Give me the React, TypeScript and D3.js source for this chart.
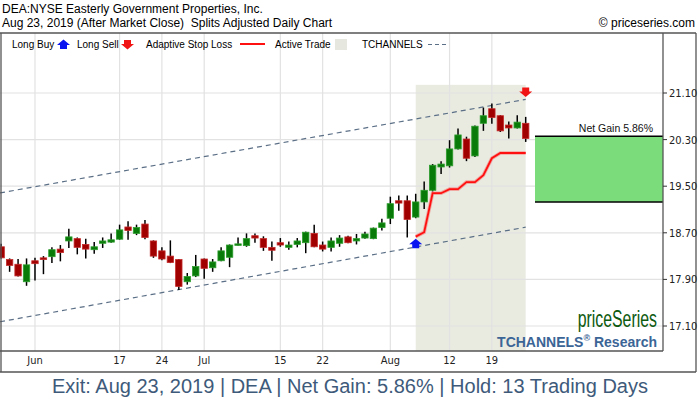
import React from "react";
import * as d3 from "d3";

// ---- data ----
const dates = [
  "2019-05-28","2019-05-29","2019-05-30","2019-05-31",
  "2019-06-03","2019-06-04","2019-06-05","2019-06-06","2019-06-07","2019-06-10","2019-06-11","2019-06-12","2019-06-13","2019-06-14",
  "2019-06-17","2019-06-18","2019-06-19","2019-06-20","2019-06-21","2019-06-24","2019-06-25","2019-06-26","2019-06-27","2019-06-28",
  "2019-07-01","2019-07-02","2019-07-03","2019-07-05","2019-07-08","2019-07-09","2019-07-10","2019-07-11","2019-07-12",
  "2019-07-15","2019-07-16","2019-07-17","2019-07-18","2019-07-19","2019-07-22","2019-07-23","2019-07-24","2019-07-25","2019-07-26",
  "2019-07-29","2019-07-30","2019-07-31","2019-08-01","2019-08-02","2019-08-05","2019-08-06","2019-08-07","2019-08-08","2019-08-09",
  "2019-08-12","2019-08-13","2019-08-14","2019-08-15","2019-08-16","2019-08-19","2019-08-20","2019-08-21","2019-08-22","2019-08-23",
];
const opens = [18.46,18.24,18.16,17.86,18.22,18.27,18.29,18.42,18.56,18.60,18.50,18.41,18.52,18.54,18.59,18.80,18.69,18.85,18.56,18.39,18.30,18.24,17.86,17.96,18.25,18.10,18.22,18.28,18.49,18.48,18.65,18.60,18.45,18.53,18.45,18.50,18.53,18.69,18.49,18.45,18.52,18.63,18.56,18.61,18.60,18.79,18.95,19.25,19.25,18.97,19.23,19.43,19.83,19.85,20.14,20.31,20.02,20.58,20.83,20.71,20.55,20.50,20.58];
const highs = [18.51,18.26,18.25,18.26,18.27,18.30,18.45,18.49,18.77,18.62,18.60,18.54,18.62,18.69,18.84,18.90,18.84,18.92,18.57,18.45,18.57,18.25,18.01,18.32,18.26,18.25,18.45,18.50,18.62,18.69,18.69,18.64,18.55,18.61,18.55,18.61,18.72,18.84,18.55,18.62,18.66,18.65,18.68,18.72,18.79,18.94,19.32,19.34,19.34,19.37,19.58,19.88,19.93,20.29,20.49,20.35,20.54,20.85,20.92,20.72,20.61,20.72,20.69];
const lows = [18.26,18.03,17.95,17.79,17.88,17.99,18.18,18.21,18.44,18.33,18.26,18.34,18.44,18.53,18.58,18.58,18.66,18.59,18.27,18.23,18.18,17.72,17.81,17.94,17.91,18.03,18.21,18.11,18.48,18.46,18.53,18.39,18.22,18.46,18.41,18.45,18.35,18.45,18.38,18.38,18.46,18.52,18.50,18.60,18.59,18.74,18.85,19.08,18.62,18.95,19.11,19.41,19.71,19.82,20.13,19.93,20.00,20.45,20.57,20.43,20.32,20.49,20.26];
const closes = [18.27,18.14,17.96,18.15,18.17,18.24,18.41,18.36,18.63,18.45,18.42,18.46,18.56,18.58,18.75,18.74,18.79,18.62,18.30,18.25,18.19,17.78,17.95,18.12,18.09,18.20,18.39,18.49,18.51,18.60,18.61,18.45,18.40,18.49,18.49,18.56,18.71,18.46,18.42,18.56,18.61,18.53,18.60,18.68,18.78,18.87,19.20,19.21,18.93,19.23,19.43,19.86,19.88,20.14,20.38,19.98,20.53,20.71,20.68,20.45,20.50,20.60,20.32];

// adaptive stop loss from entry (index 49) to exit (index 62)
const stopStartIndex = 49;
const stopLoss = [18.635,18.71,19.38,19.38,19.45,19.45,19.57,19.57,19.69,19.98,20.07,20.07,20.07,20.07];

// trade
const entryIndex = 49;
const exitIndex = 62;
const entryPrice = 19.23;
const exitPrice = 20.357;
const netGainLabel = "5.86%";
const buyArrowPrice = 18.60;
const sellArrowPrice = 21.03;
const activeTopPrice = 21.24;

// TCHANNELS: [price at index 0, price at last index]
const channelUpper = [19.388, 20.99];
const channelLower = [17.176, 18.796];

// axes
const yTicks = [21.10, 20.30, 19.50, 18.70, 17.90, 17.10];
const xTickIndex = [4, 14, 19, 24, 33, 38, 46, 53, 58];
const xTickLabels = ["Jun", "17", "24", "Jul", "15", "22", "Aug", "12", "19"];

// ---- layout ----
const W = 700, H = 400;
const frameTop = 33, frameLeft = 1, frameRight = 696, frameBottom = 372;
const plotLeft = 0, plotRight = 663, plotBottom = 351;

const x = d3.scaleLinear().domain([0, dates.length - 1]).range([1.15, 525.7]);
const y = d3.scaleLinear().domain([17.10, 21.10]).range([326, 93]);
const step = x(1) - x(0);
const bodyW = 6.4;

const RED = "#a10000";
const RED_EDGE = "#c42a2a";
const GREEN = "#087a08";
const GREEN_EDGE = "#2e9e2e";
const CHANNEL = "#5b6f86";
const FONT = "'Liberation Sans', Arial, Helvetica, sans-serif";
const NARROW = "'Liberation Sans Narrow', 'DejaVu Sans Condensed', 'Liberation Sans', Arial, sans-serif";

function upArrow(cx: number, tip: number) {
  return `M${cx},${tip} L${cx + 6.5},${tip + 5.5} L${cx + 3.5},${tip + 5.5} L${cx + 3.5},${tip + 9.5} L${cx - 3.5},${tip + 9.5} L${cx - 3.5},${tip + 5.5} L${cx - 6.5},${tip + 5.5} Z`;
}
function downArrow(cx: number, tip: number) {
  return `M${cx},${tip} L${cx + 6.5},${tip - 5.5} L${cx + 3.5},${tip - 5.5} L${cx + 3.5},${tip - 9.5} L${cx - 3.5},${tip - 9.5} L${cx - 3.5},${tip - 5.5} L${cx - 6.5},${tip - 5.5} Z`;
}

export default function App() {
  const last = dates.length - 1;
  const chanX = (p: number[]) => {
    const slope = (p[1] - p[0]) / last;
    const i0 = x.invert(plotLeft);
    return { x1: plotLeft, y1: y(p[0] + slope * i0), x2: x(last), y2: y(p[1]) };
  };
  const up = chanX(channelUpper);
  const lo = chanX(channelLower);

  const stopLine = d3
    .line<number>()
    .x((_, i) => x(stopStartIndex + i))
    .y((d) => y(d));
  const stopPath = stopLine(stopLoss) || "";

  const boxLeft = x(exitIndex) + step * 1.1;

  return (
    <svg width={W} height={H} style={{ position: "absolute", left: 0, top: 0, background: "#fff" }} fontFamily={FONT}>
      <rect x={0} y={0} width={W} height={H} fill="#fff" />
      {/* header */}
      <text x={2} y={13} fontSize={12} fill="#000">DEA:NYSE Easterly Government Properties, Inc.</text>
      <text x={2} y={27} fontSize={12} fill="#000" style={{ whiteSpace: "pre" }}>Aug 23, 2019 (After Market Close)  Splits Adjusted Daily Chart</text>
      <text x={695} y={27} fontSize={12} fill="#000" textAnchor="end">© priceseries.com</text>

      {/* active trade shading */}
      <rect x={x(entryIndex)} y={y(activeTopPrice)} width={x(exitIndex) - x(entryIndex)} height={plotBottom - y(activeTopPrice)} fill="#e9ebe1" />

      {/* grid */}
      {yTicks.map((t) => (
        <line key={"hg" + t} x1={plotLeft} x2={plotRight} y1={y(t)} y2={y(t)} stroke="#e2e2e2" strokeWidth={1.2} />
      ))}
      {xTickIndex.map((i) => (
        <line key={"vg" + i} x1={x(i)} x2={x(i)} y1={frameTop} y2={plotBottom} stroke="#e2e2e2" strokeWidth={1.2} />
      ))}

      {/* channels */}
      <line {...up} stroke={CHANNEL} strokeWidth={1.2} strokeDasharray="5,4" />
      <line {...lo} stroke={CHANNEL} strokeWidth={1.2} strokeDasharray="5,4" />

      {/* candles */}
      {dates.map((d, i) => {
        const o = opens[i], c = closes[i], h = highs[i], l = lows[i];
        const bull = c >= o;
        const top = y(Math.max(o, c));
        const bot = y(Math.min(o, c));
        return (
          <g key={d}>
            <line x1={x(i)} x2={x(i)} y1={y(h)} y2={y(l)} stroke="#000" strokeWidth={1.5} />
            <rect x={x(i) - bodyW / 2} y={top} width={bodyW} height={Math.max(1.5, bot - top)} fill={bull ? GREEN : RED} stroke={bull ? GREEN_EDGE : RED_EDGE} strokeWidth={0.8} />
          </g>
        );
      })}

      {/* stop loss */}
      <path d={stopPath} fill="none" stroke="rgba(255,40,40,0.35)" strokeWidth={3.6} />
      <path d={stopPath} fill="none" stroke="#ff1010" strokeWidth={1.8} />

      {/* arrows */}
      <path d={upArrow(x(entryIndex), y(buyArrowPrice))} fill="#0a14f0" />
      <path d={downArrow(x(exitIndex), y(sellArrowPrice))} fill="#f01414" />

      {/* net gain box */}
      <rect x={boxLeft} y={y(exitPrice)} width={plotRight - boxLeft} height={y(entryPrice) - y(exitPrice)} fill="#7adc7a" />
      <line x1={boxLeft} x2={plotRight} y1={y(exitPrice)} y2={y(exitPrice)} stroke="#000" strokeWidth={1.5} />
      <line x1={boxLeft} x2={plotRight} y1={y(entryPrice)} y2={y(entryPrice)} stroke="#000" strokeWidth={1.5} />
      <text x={653} y={y(exitPrice) - 4} fontSize={10.5} textAnchor="end" fill="#111">Net Gain {netGainLabel}</text>

      {/* branding */}
      <text transform="translate(657,327) scale(0.69,1)" fontSize={23} fill="#0d5a10" textAnchor="end">priceSeries</text>
      <text x={657} y={347} fontSize={14} fontWeight="bold" fill="#3b6596" textAnchor="end">
        TCHANNELS<tspan fontSize={9} dy={-6}>®</tspan><tspan dy={6}> Research</tspan>
      </text>

      {/* legend */}
      <g fontSize={10} fill="#000">
        <text x={12} y={48}>Long Buy</text>
        <path d={upArrow(63.5, 39.5)} fill="#0a14f0" />
        <text x={77} y={48}>Long Sell</text>
        <path d={downArrow(127.5, 49.5)} fill="#f01414" />
        <text x={146} y={48}>Adaptive Stop Loss</text>
        <line x1={240} x2={265} y1={44} y2={44} stroke="#ff1010" strokeWidth={2} />
        <text x={275} y={48}>Active Trade</text>
        <rect x={335} y={39} width={12} height={11} fill="#e6e8df" />
        <text x={362} y={48}>TCHANNELS</text>
        <line x1={428} x2={446} y1={44.5} y2={44.5} stroke={CHANNEL} strokeWidth={1} strokeDasharray="4,3" />
      </g>

      {/* frame */}
      <line x1={0} x2={frameRight} y1={frameTop} y2={frameTop} stroke="#555" strokeWidth={1.3} />
      <line x1={frameLeft} x2={frameLeft} y1={frameTop} y2={frameBottom} stroke="#555" strokeWidth={1.3} />
      <line x1={frameRight} x2={frameRight} y1={frameTop} y2={frameBottom} stroke="#555" strokeWidth={1.3} />
      <line x1={0} x2={frameRight} y1={frameBottom} y2={frameBottom} stroke="#555" strokeWidth={1.3} />
      <line x1={plotRight} x2={plotRight} y1={frameTop} y2={plotBottom} stroke="#555" strokeWidth={1.3} />
      <line x1={0} x2={plotRight} y1={plotBottom} y2={plotBottom} stroke="#555" strokeWidth={1.3} />

      {/* y axis */}
      {yTicks.map((t) => (
        <g key={"yt" + t}>
          <line x1={plotRight} x2={plotRight + 4} y1={y(t)} y2={y(t)} stroke="#333" strokeWidth={1} />
          <text x={plotRight + 6} y={y(t) + 4} fontSize={11} fontFamily={NARROW} fill="#222">{t.toFixed(2)}</text>
        </g>
      ))}

      {/* x axis */}
      {xTickIndex.map((i, k) => (
        <text key={"xt" + i} x={x(i)} y={364} fontSize={11} fontFamily={NARROW} textAnchor="middle" fill="#222">{xTickLabels[k]}</text>
      ))}

      {/* footer */}
      <text x={350} y={393} fontSize={20} textAnchor="middle" fill="#3e5a7a" textLength={596} lengthAdjust="spacingAndGlyphs">Exit: Aug 23, 2019 | DEA | Net Gain: {netGainLabel} | Hold: 13 Trading Days</text>
    </svg>
  );
}
